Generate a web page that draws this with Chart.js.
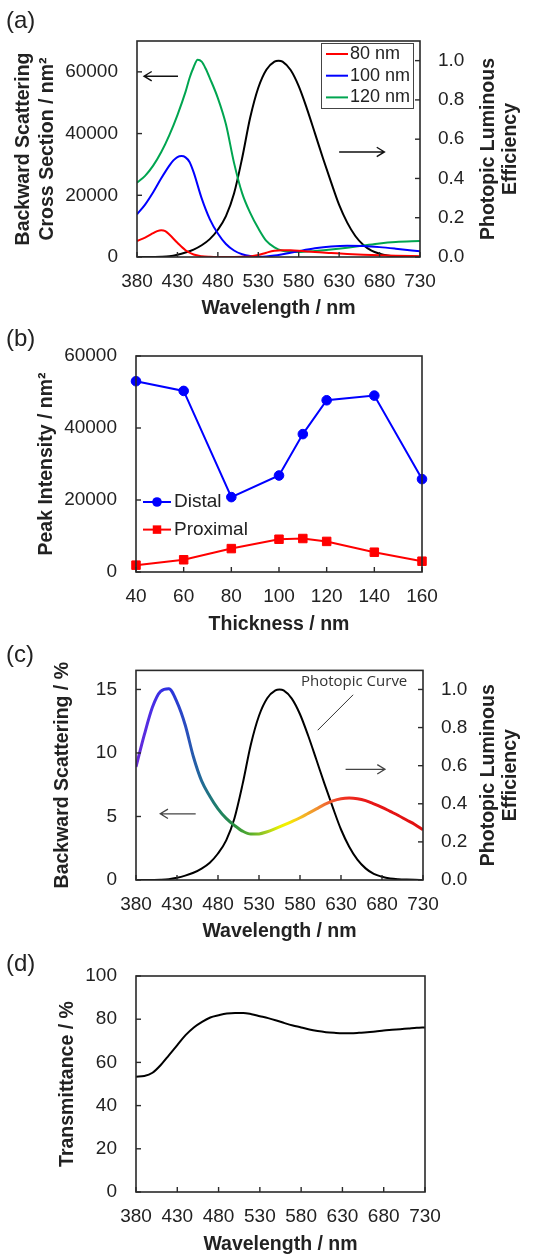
<!DOCTYPE html>
<html lang="en">
<head>
  <meta charset="UTF-8" />
  <title>Backward scattering, peak intensity and transmittance</title>
  <script src="https://cdn.jsdelivr.net/npm/chart.js"></script>
  <style>
    html, body { margin: 0; padding: 0; background: #fff; }
    body { width: 544px; height: 1254px; position: relative; overflow: hidden; }
    canvas { position: absolute; left: 0; }
    #chartA { top: 0; }
    #chartB { top: 320px; }
    #chartC { top: 640px; }
    #chartD { top: 944px; }
  </style>
</head>
<body>
  <canvas id="chartA" width="544" height="320"></canvas>
  <canvas id="chartB" width="544" height="320"></canvas>
  <canvas id="chartC" width="544" height="304"></canvas>
  <canvas id="chartD" width="544" height="310"></canvas>

  <script>
    // ---- data ----
    // (a) backward scattering cross section, nm^2, one wavelength list per film
    const wl80  = [380, 390, 400, 405, 410, 415, 420, 430, 440, 450, 460, 470, 480, 500, 510, 520, 530, 540, 550,
                   560, 570, 580, 600, 620, 640, 660, 680, 700, 730];
    const sc80  = [5200, 6300, 7700, 8400, 8700, 8400, 7300, 4600, 2200, 800, 250, 60, 0, 0, 50, 200, 650, 1400, 2000,
                   2200, 2150, 2000, 1600, 1300, 1000, 760, 560, 410, 260];
    const wl100 = [380, 390, 400, 410, 420, 425, 430, 435, 440, 445, 450, 460, 470, 480, 490, 500, 510, 520, 530,
                   540, 550, 560, 580, 600, 620, 640, 660, 680, 700, 730];
    const sc100 = [13800, 17000, 21000, 25500, 29600, 31300, 32400, 32700, 32300, 30800, 27500, 19000, 12300, 7600, 4200, 2100, 900, 300, 80,
                   150, 450, 900, 1900, 2800, 3400, 3650, 3550, 3200, 2700, 1850];
    const wl120 = [380, 390, 400, 410, 420, 430, 440, 445, 450, 455, 460, 465, 470, 480, 490, 500, 510, 520, 530,
                   540, 550, 560, 570, 580, 600, 620, 640, 660, 680, 700, 730];
    const sc120 = [24100, 26300, 29600, 34000, 39500, 46000, 53500, 58000, 61500, 63900, 63300, 61000, 58000, 51500, 43000, 30500, 20700, 14300, 9300,
                   5200, 3100, 2000, 1700, 1600, 1950, 2400, 3000, 3700, 4400, 4850, 5150];
    const aLeftTicks = [0, 20000, 40000, 60000];

    // photopic luminous efficiency
    const wlV = [380, 390, 400, 410, 420, 430, 440, 450, 460, 470, 480, 490, 500, 510, 520, 530, 540, 550, 555,
                 560, 570, 580, 590, 600, 610, 620, 630, 640, 650, 660, 670, 680, 690, 700, 710, 720, 730];
    const photopic = [0.00004, 0.00012, 0.0004, 0.0012, 0.004, 0.0116, 0.023, 0.038, 0.06, 0.091, 0.139, 0.208, 0.323, 0.503,
                      0.71, 0.862, 0.954, 0.995, 1.0, 0.995, 0.952, 0.87, 0.757, 0.631, 0.503, 0.381, 0.265, 0.175, 0.107,
                      0.061, 0.032, 0.017, 0.0082, 0.0041, 0.0021, 0.001, 0.0005];

    // (b) peak intensity vs thickness
    const thickness = [40, 60, 80, 100, 110, 120, 140, 160];
    const distal    = [53000, 50300, 20800, 26800, 38300, 47700, 49000, 25800];
    const proximal  = [1900, 3400, 6500, 9100, 9300, 8500, 5500, 3000];

    // (c) backward scattering, %  and  (d) transmittance, %
    const wl = [380, 390, 400, 410, 420, 430, 440, 450, 460, 470, 480, 490, 500, 510, 520, 530, 540, 550,
                560, 570, 580, 590, 600, 610, 620, 630, 640, 650, 660, 670, 680, 690, 700, 710, 720, 730];
    const scatterPct = [8.9, 11.4, 13.6, 14.85, 15.05, 14.0, 12.2, 9.7, 7.8, 6.6, 5.6, 4.85, 4.3, 3.85, 3.62, 3.63, 3.8, 4.05,
                        4.32, 4.6, 4.9, 5.25, 5.6, 5.95, 6.23, 6.4, 6.45, 6.4, 6.25, 6.0, 5.72, 5.4, 5.08, 4.72, 4.37, 3.95];
    const transmit = [53.4, 53.7, 55.2, 58.8, 63.4, 68.0, 72.6, 76.2, 78.8, 80.8, 81.8, 82.6, 82.9, 82.9, 82.3, 81.4, 80.5, 79.4,
                      78.2, 77.1, 76.2, 75.2, 74.5, 74.0, 73.7, 73.5, 73.5, 73.7, 74.0, 74.3, 74.8, 75.1, 75.4, 75.7, 76.0, 76.2];

    // spectral colours for the line in (c)
    const specWl  = [380, 400, 420, 440, 460, 480, 500, 520, 540, 555, 565, 580, 600, 615, 635, 660, 730];
    const specCol = ['#6a2ad8', '#4a2ee6', '#2a30e0', '#2a4cc0', '#226a98', '#1f8068', '#2a9040', '#5aae2c', '#a8d020',
                     '#e8f000', '#f5f000', '#f5c020', '#f09030', '#f06030', '#f03020', '#e81818', '#e01010'];

    const pts = (xs, ys) => xs.map((x, i) => ({ x, y: ys[i] }));

    const FONT = '"Liberation Sans", Arial, sans-serif';
    const INK = '#222';
    Chart.defaults.font.family = FONT;
    Chart.defaults.font.size = 19;
    Chart.defaults.color = INK;

    // ---- plugins ----
    const frame = {
      id: 'frame',
      afterDraw(chart) {
        const { ctx, chartArea: a } = chart;
        ctx.save();
        ctx.strokeStyle = '#2a2a2a';
        ctx.lineWidth = 1.6;
        ctx.strokeRect(a.left, a.top, a.width, a.height);
        ctx.lineWidth = 1.4;
        Object.values(chart.scales).forEach(s => {
          s.ticks.forEach(t => {
            const p = s.getPixelForValue(t.value);
            ctx.beginPath();
            if (s.axis === 'x') { ctx.moveTo(p, a.bottom); ctx.lineTo(p, a.bottom - 5); }
            else if (s.position === 'left') { ctx.moveTo(a.left, p); ctx.lineTo(a.left + 5, p); }
            else { ctx.moveTo(a.right, p); ctx.lineTo(a.right - 5, p); }
            ctx.stroke();
          });
        });
        ctx.restore();
      }
    };

    const panelLabel = {
      id: 'panelLabel',
      afterDraw(chart, args, o) {
        const ctx = chart.ctx;
        ctx.save();
        ctx.font = '24px ' + FONT;
        ctx.fillStyle = INK;
        ctx.textBaseline = 'middle';
        ctx.fillText(o.text, 6, o.y);
        ctx.restore();
      }
    };

    // right-hand axis title, read bottom to top like the left one
    const rightTitle = {
      id: 'rightTitle',
      afterDraw(chart, args, o) {
        if (!o.lines) return;
        const { ctx, chartArea: a } = chart;
        ctx.save();
        ctx.font = 'bold 19.5px ' + FONT;
        ctx.fillStyle = INK;
        ctx.textAlign = 'center';
        ctx.textBaseline = 'middle';
        o.lines.forEach((line, i) => {
          ctx.save();
          ctx.translate(o.xs[i], (a.top + a.bottom) / 2);
          ctx.rotate(-Math.PI / 2);
          ctx.fillText(line, 0, 0);
          ctx.restore();
        });
        ctx.restore();
      }
    };

    const notes = {
      id: 'notes',
      afterDatasetsDraw(chart, args, o) {
        const ctx = chart.ctx;
        const xs = chart.scales.x;
        (o.lines || []).forEach(l => {
          const ys = chart.scales[l.axis];
          const x1 = xs.getPixelForValue(l.from[0]), y1 = ys.getPixelForValue(l.from[1]);
          const x2 = xs.getPixelForValue(l.to[0]), y2 = ys.getPixelForValue(l.to[1]);
          ctx.save();
          ctx.strokeStyle = l.color;
          ctx.lineWidth = l.width;
          ctx.beginPath();
          ctx.moveTo(x1, y1);
          ctx.lineTo(x2, y2);
          if (l.head) {
            const ang = Math.atan2(y2 - y1, x2 - x1);
            const h = 9, w = 0.55;
            ctx.moveTo(x2 - h * Math.cos(ang - w), y2 - h * Math.sin(ang - w));
            ctx.lineTo(x2, y2);
            ctx.lineTo(x2 - h * Math.cos(ang + w), y2 - h * Math.sin(ang + w));
          }
          ctx.stroke();
          ctx.restore();
        });
        (o.texts || []).forEach(t => {
          const ys = chart.scales[t.axis];
          ctx.save();
          ctx.font = t.font;
          ctx.fillStyle = t.color;
          ctx.textAlign = 'center';
          ctx.textBaseline = 'middle';
          ctx.fillText(t.text, xs.getPixelForValue(t.at[0]), ys.getPixelForValue(t.at[1]));
          ctx.restore();
        });
      }
    };

    const boxLegend = {
      id: 'boxLegend',
      afterDatasetsDraw(chart, args, o) {
        if (!o.items) return;
        const ctx = chart.ctx;
        ctx.save();
        if (o.box) {
          const [bx, by, bw, bh] = o.box;
          ctx.fillStyle = '#fff';
          ctx.fillRect(bx, by, bw, bh);
          ctx.strokeStyle = '#444';
          ctx.lineWidth = 1;
          ctx.strokeRect(bx + 0.5, by + 0.5, bw, bh);
        }
        ctx.font = (o.size || 19) + 'px ' + FONT;
        ctx.textBaseline = 'middle';
        o.items.forEach((idx, i) => {
          const ds = chart.data.datasets[idx];
          const y = o.y + i * o.rowH;
          ctx.strokeStyle = ds.borderColor;
          ctx.lineWidth = 2;
          ctx.beginPath();
          ctx.moveTo(o.x, y);
          ctx.lineTo(o.x + o.lineW, y);
          ctx.stroke();
          if (ds.pointRadius) {
            const cx = o.x + o.lineW / 2;
            ctx.fillStyle = ds.pointBackgroundColor;
            ctx.beginPath();
            if (ds.pointStyle === 'rect') {
              const s = ds.pointRadius * Math.SQRT1_2;
              ctx.rect(cx - s, y - s, 2 * s, 2 * s);
            } else {
              ctx.arc(cx, y, ds.pointRadius, 0, Math.PI * 2);
            }
            ctx.fill();
          }
          ctx.fillStyle = INK;
          ctx.fillText(ds.label, o.x + o.lineW + o.gap, y);
        });
        ctx.restore();
      }
    };

    // ---- axes ----
    const xAxis = (min, max, step, text, h, pb) => ({
      type: 'linear', min, max,
      ticks: { stepSize: step, padding: 13, callback: v => String(v) },
      grid: { display: false, drawTicks: false },
      border: { display: false },
      title: { display: true, text, font: { size: 19.5, weight: 'bold', lineHeight: 1 }, padding: { top: 0, bottom: pb } },
      afterFit: s => { s.height = h; }
    });

    const yAxis = (max, step, text, w, pt, tickList) => ({
      position: 'left', min: 0, max,
      ticks: { stepSize: step, padding: 19, includeBounds: false, callback: v => String(v) },
      grid: { display: false, drawTicks: false },
      border: { display: false },
      title: { display: true, text, font: { size: 19.5, weight: 'bold', lineHeight: 1.2 }, padding: { top: pt, bottom: 0 } },
      afterBuildTicks: s => { if (tickList) s.ticks = tickList.map(v => ({ value: v })); },
      afterFit: s => { s.width = w; }
    });

    const y2Axis = w => ({
      position: 'right', min: 0, max: 1.1,
      ticks: { stepSize: 0.2, padding: 18, includeBounds: false, callback: v => v.toFixed(1) },
      grid: { display: false, drawTicks: false },
      border: { display: false },
      afterFit: s => { s.width = w; }
    });

    const common = {
      responsive: false,
      animation: false,
      devicePixelRatio: 1,
      elements: { point: { radius: 0 }, line: { borderWidth: 2, cubicInterpolationMode: 'monotone' } },
    };

    const usePlugins = [frame, panelLabel, rightTitle, notes, boxLegend];

    // ---- (a) ----
    new Chart(document.getElementById('chartA'), {
      type: 'line',
      data: {
        datasets: [
          { label: '80 nm', data: pts(wl80, sc80), borderColor: '#ff0000', yAxisID: 'y' },
          { label: '100 nm', data: pts(wl100, sc100), borderColor: '#0000ff', yAxisID: 'y' },
          { label: '120 nm', data: pts(wl120, sc120), borderColor: '#00a550', yAxisID: 'y' },
          { label: 'Photopic', data: pts(wlV, photopic), borderColor: '#000000', yAxisID: 'y2' }
        ]
      },
      options: {
        ...common,
        layout: { padding: { top: 41, left: 0, right: 0, bottom: 0 } },
        scales: {
          x: xAxis(380, 730, 50, 'Wavelength / nm', 63, 2),
          y: yAxis(70000, 20000, ['Backward Scattering', 'Cross Section / nm\u00b2'], 137, 12.3, aLeftTicks),
          y2: y2Axis(124)
        },
        plugins: {
          legend: { display: false },
          tooltip: { enabled: false },
          panelLabel: { text: '(a)', y: 21 },
          rightTitle: { lines: ['Photopic Luminous', 'Efficiency'], xs: [489, 511] },
          boxLegend: { items: [0, 1, 2], box: [321, 43, 92, 65], x: 326, y: 54, rowH: 21.7, lineW: 22, gap: 2, size: 18 },
          notes: {
            lines: [
              { axis: 'y', from: [430.7, 58600], to: [388.7, 58600], color: '#111', width: 1.4, head: true },
              { axis: 'y2', from: [630, 0.535], to: [686, 0.535], color: '#111', width: 1.4, head: true }
            ]
          }
        }
      },
      plugins: usePlugins
    });

    // ---- (b) ----
    new Chart(document.getElementById('chartB'), {
      type: 'line',
      data: {
        datasets: [
          { label: 'Distal', data: pts(thickness, distal), borderColor: '#0000ff', backgroundColor: '#0000ff',
            pointBackgroundColor: '#0000ff', pointBorderColor: '#0000ff', pointStyle: 'circle', pointRadius: 4.8,
            cubicInterpolationMode: 'default', tension: 0, clip: false },
          { label: 'Proximal', data: pts(thickness, proximal), borderColor: '#ff0000', backgroundColor: '#ff0000',
            pointBackgroundColor: '#ff0000', pointBorderColor: '#ff0000', pointStyle: 'rect', pointRadius: 6,
            cubicInterpolationMode: 'default', tension: 0, clip: false }
        ]
      },
      options: {
        ...common,
        layout: { padding: { top: 36, left: 0, right: 122, bottom: 0 } },
        scales: {
          x: xAxis(40, 160, 20, 'Thickness / nm', 68, 6),
          y: yAxis(60000, 20000, 'Peak Intensity / nm\u00b2', 136, 35.3)
        },
        plugins: {
          legend: { display: false },
          tooltip: { enabled: false },
          panelLabel: { text: '(b)', y: 19 },
          boxLegend: { items: [0, 1], x: 143, y: 182, rowH: 27.6, lineW: 28, gap: 3 }
        }
      },
      plugins: usePlugins
    });

    // ---- (c) ----
    new Chart(document.getElementById('chartC'), {
      type: 'line',
      data: {
        datasets: [
          { label: 'Backward Scattering', data: pts(wl, scatterPct), yAxisID: 'y', borderWidth: 3,
            borderColor: ctx => {
              const c = ctx.chart;
              if (!c.chartArea) return '#2a30e0';
              const xs = c.scales.x;
              const g = c.ctx.createLinearGradient(xs.getPixelForValue(380), 0, xs.getPixelForValue(730), 0);
              specWl.forEach((w, i) => g.addColorStop((w - 380) / 350, specCol[i]));
              return g;
            } },
          { label: 'Photopic Curve', data: pts(wlV, photopic), borderColor: '#000000', yAxisID: 'y2' }
        ]
      },
      options: {
        ...common,
        layout: { padding: { top: 24, left: 0, right: 0, bottom: 0 } },
        scales: {
          x: xAxis(380, 730, 50, 'Wavelength / nm', 64, 2.5),
          y: yAxis(16.5, 5, 'Backward Scattering / %', 136, 51.3),
          y2: y2Axis(121)
        },
        plugins: {
          legend: { display: false },
          tooltip: { enabled: false },
          panelLabel: { text: '(c)', y: 15 },
          rightTitle: { lines: ['Photopic Luminous', 'Efficiency'], xs: [489, 511] },
          notes: {
            lines: [
              { axis: 'y2', from: [635.6, 0.581], to: [683.6, 0.581], color: '#444', width: 1.3, head: true },
              { axis: 'y', from: [452.8, 5.21], to: [409.6, 5.21], color: '#444', width: 1.3, head: true },
              { axis: 'y2', from: [644.8, 0.972], to: [601.6, 0.786], color: '#333', width: 1, head: false }
            ],
            texts: [
              { axis: 'y2', at: [646, 1.04], text: 'Photopic Curve', font: '15px "Open Sans", sans-serif', color: '#333' }
            ]
          }
        }
      },
      plugins: usePlugins
    });

    // ---- (d) ----
    new Chart(document.getElementById('chartD'), {
      type: 'line',
      data: {
        datasets: [
          { label: 'Transmittance', data: pts(wl, transmit), borderColor: '#000000' }
        ]
      },
      options: {
        ...common,
        layout: { padding: { top: 32, left: 0, right: 119, bottom: 0 } },
        scales: {
          x: xAxis(380, 730, 50, 'Wavelength / nm', 62, 0),
          y: yAxis(100, 20, 'Transmittance / %', 136, 56.3)
        },
        plugins: {
          legend: { display: false },
          tooltip: { enabled: false },
          panelLabel: { text: '(d)', y: 20 }
        }
      },
      plugins: usePlugins
    });
  </script>
</body>
</html>
